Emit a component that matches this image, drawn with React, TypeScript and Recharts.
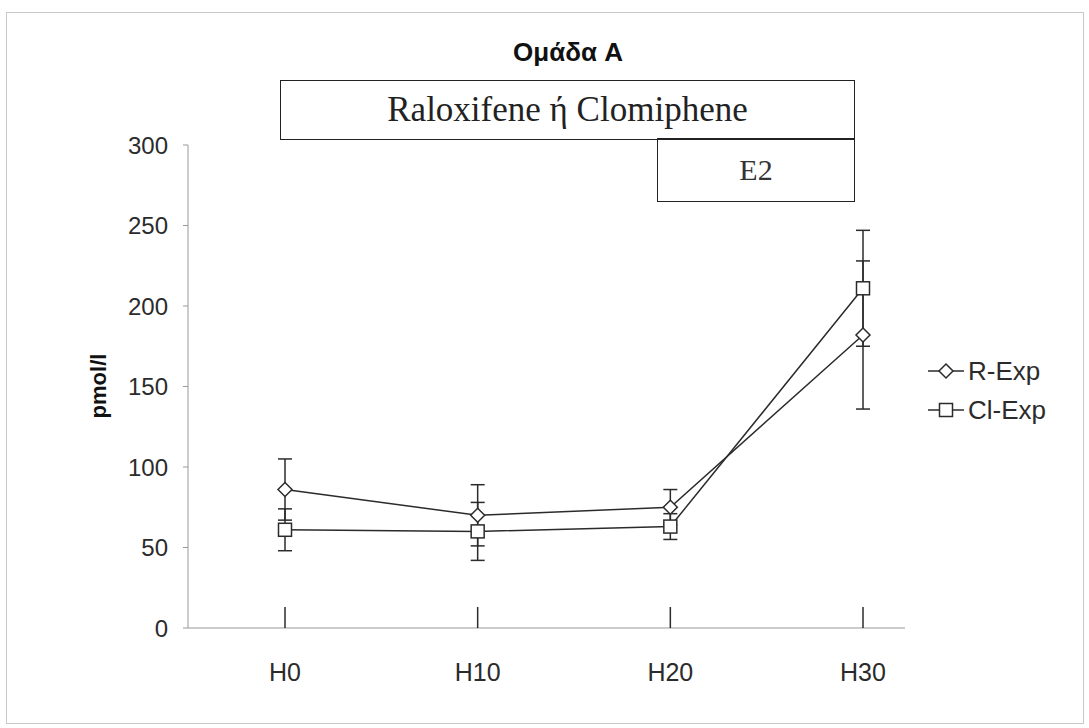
import React from "react";
import { ErrorBar, Line, LineChart, XAxis, YAxis } from "recharts";

const hours = ["H0", "H10", "H20", "H30"];
const rExp = [86, 70, 75, 182];
const rErr = [19, 19, 11, 46];
const clExp = [61, 60, 63, 211];
const clErr = [13, 18, 8, 36];
const yTicks = [0, 50, 100, 150, 200, 250, 300];

const data = hours.map((h, i) => ({ h, r: rExp[i], rErr: rErr[i], cl: clExp[i], clErr: clErr[i] }));

const INK = "#2b2b2b";
const SANS = "'Liberation Sans', Arial, sans-serif";
const SERIF = "'Liberation Serif', 'Times New Roman', serif";

function Diamond({ cx, cy }: any) {
  if (cx == null || cy == null) return null;
  const s = 7;
  return <path d={`M${cx},${cy - s}L${cx + s},${cy}L${cx},${cy + s}L${cx - s},${cy}Z`} fill="#fff" stroke={INK} strokeWidth={1.5} />;
}

function Square({ cx, cy }: any) {
  if (cx == null || cy == null) return null;
  const s = 6.5;
  return <rect x={cx - s} y={cy - s} width={s * 2} height={s * 2} fill="#fff" stroke={INK} strokeWidth={1.5} />;
}

function HourTick({ x, y, payload }: any) {
  return (
    <g>
      <line x1={x} y1={y} x2={x} y2={y - 21} stroke={INK} strokeWidth={1.5} />
      <text x={x} y={y + 53} textAnchor="middle" fontFamily={SANS} fontSize={25} fill={INK}>{payload.value}</text>
    </g>
  );
}

export default function App() {
  return (
    <div style={{ position: "absolute", left: 0, top: 0, width: 1089, height: 728, background: "#fff" }}>
      <div style={{ position: "absolute", left: 6, top: 12, width: 1076, height: 710, border: "1px solid #c8c8c8" }} />
      <div style={{ position: "absolute", left: 418, top: 37, width: 300, textAlign: "center", fontFamily: SANS, fontWeight: "bold", fontSize: 26, color: "#111" }}>Ομάδα A</div>
      <div style={{ position: "absolute", left: 280, top: 80, width: 575, height: 60, border: "1.5px solid #222", boxSizing: "border-box", display: "flex", alignItems: "center", justifyContent: "center", fontFamily: SERIF, fontSize: 35, color: "#222" }}>Raloxifene ή Clomiphene</div>
      <div style={{ position: "absolute", left: 657, top: 138, width: 198, height: 64, border: "1.5px solid #222", boxSizing: "border-box", display: "flex", alignItems: "center", justifyContent: "center", fontFamily: SERIF, fontSize: 30, color: "#333" }}>E2</div>
      <div style={{ position: "absolute", left: 99, top: 386, transform: "translate(-50%, -50%) rotate(-90deg)", fontFamily: SANS, fontWeight: "bold", fontSize: 22, color: "#111" }}>pmol/l</div>
      <svg style={{ position: "absolute", left: 920, top: 355 }} width={169} height={70}>
        <line x1={8} y1={16} x2={44} y2={16} stroke={INK} strokeWidth={1.5} />
        <Diamond cx={26} cy={16} />
        <text x={48} y={25} fontFamily={SANS} fontSize={26} fill={INK}>R-Exp</text>
        <line x1={8} y1={55} x2={44} y2={55} stroke={INK} strokeWidth={1.5} />
        <Square cx={26} cy={55} />
        <text x={48} y={64} fontFamily={SANS} fontSize={26} fill={INK}>Cl-Exp</text>
      </svg>
      <div style={{ position: "absolute", left: 0, top: 0 }}>
        <LineChart width={1089} height={728} data={data} margin={{ top: 145, right: 184, bottom: 70, left: 0 }}>
          <XAxis dataKey="h" height={30} padding={{ left: 97, right: 42 }} stroke="#999" tickLine={false} tickSize={0} tickMargin={0} tick={<HourTick />} interval={0} />
          <YAxis domain={[0, 300]} ticks={yTicks} width={188} stroke="#999" tickSize={5} tickMargin={15} tick={{ fontFamily: SANS, fontSize: 24, fill: INK }} />
          <Line dataKey="r" stroke={INK} strokeWidth={1.5} dot={<Diamond />} activeDot={false} isAnimationActive={false}>
            <ErrorBar dataKey="rErr" width={7} stroke={INK} strokeWidth={1.5} />
          </Line>
          <Line dataKey="cl" stroke={INK} strokeWidth={1.5} dot={<Square />} activeDot={false} isAnimationActive={false}>
            <ErrorBar dataKey="clErr" width={7} stroke={INK} strokeWidth={1.5} />
          </Line>
        </LineChart>
      </div>
    </div>
  );
}
